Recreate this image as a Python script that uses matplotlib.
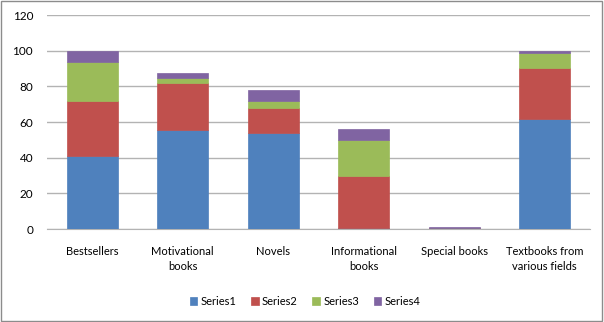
import matplotlib.pyplot as plt
import numpy as np

plt.rcParams['font.family'] = ['Lato', 'DejaVu Sans']

categories = ['Bestsellers', 'Motivational\nbooks', 'Novels', 'Informational\nbooks',
              'Special books', 'Textbooks from\nvarious fields']
series1 = [41.0, 55.6, 53.6, 0.5, 0.0, 61.8]
series2 = [30.5, 26.0, 14.2, 29.5, 0.4, 28.5]
series3 = [22.0, 2.8, 3.7, 20.0, 0.0, 8.4]
series4 = [6.5, 3.2, 6.6, 6.0, 0.8, 0.9]
names = ['Series1', 'Series2', 'Series3', 'Series4']
colors = ['#4F81BD', '#C0504D', '#9BBB59', '#8064A2']

fig = plt.figure(figsize=(6.04, 3.22), dpi=100)
ax = fig.add_axes([0.0778, 0.2888, 0.899, 0.6646])

x = np.arange(len(categories))
bottom = np.zeros(len(categories))
for vals, name, c in zip([series1, series2, series3, series4], names, colors):
    ax.bar(x, vals, 0.565, bottom=bottom, color=c, label=name, zorder=3,
           edgecolor=c, linewidth=0.5)
    bottom += np.array(vals)

ax.set_xlim(-0.5, len(categories) - 0.5)
ax.set_ylim(0, 120)
ax.set_yticks(range(0, 121, 20))
ax.set_xticks(x)
ax.set_xticklabels(categories, fontsize=8, linespacing=1.5)
ax.tick_params(axis='y', labelsize=8.5, length=0, pad=10)
ax.tick_params(axis='x', length=0, pad=12)
ax.yaxis.grid(True, color='#B3B3B3', linewidth=1, zorder=0)
for s in ['top', 'right', 'left']:
    ax.spines[s].set_visible(False)
ax.spines['bottom'].set_color('#B3B3B3')

fig.legend(loc='center', bbox_to_anchor=(0.505, 0.063), ncol=4, frameon=False,
           fontsize=8, handlelength=0.7, handleheight=0.7, handletextpad=0.3,
           columnspacing=1.3)

fig.patches.append(plt.Rectangle((0.002, 0.003), 0.995, 0.994, transform=fig.transFigure,
                                 fill=False, edgecolor='#8C8C8C', linewidth=1))

fig.savefig('out.png', dpi=100)
